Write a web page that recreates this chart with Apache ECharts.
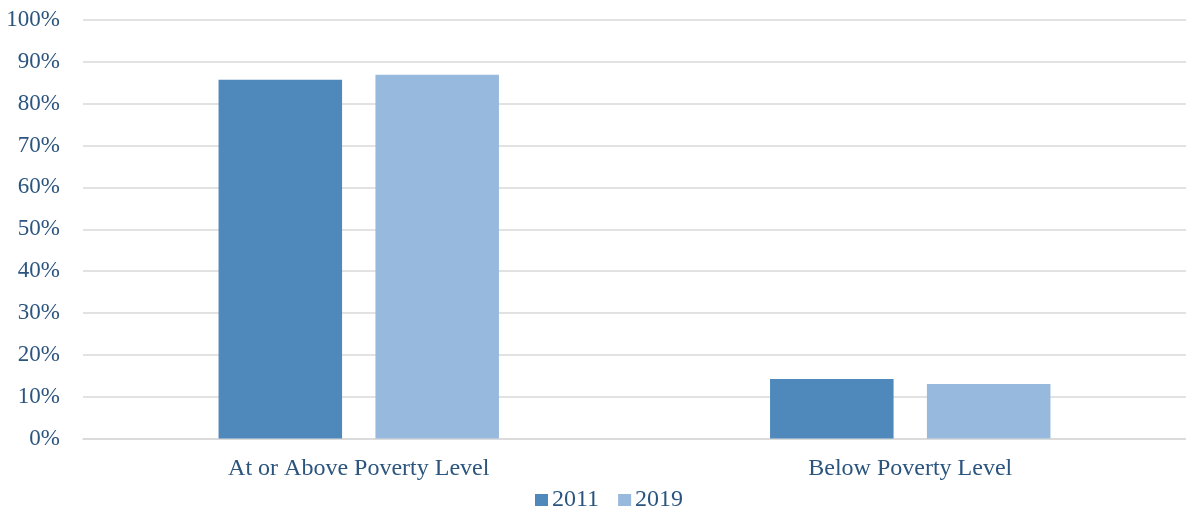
<!DOCTYPE html>
<html>
<head>
<meta charset="utf-8">
<script src="https://cdn.jsdelivr.net/npm/echarts@6/dist/echarts.min.js"></script>
<style>html,body{margin:0;padding:0;background:#fff}#c{width:1186px;height:506px}</style>
</head>
<body>
<div id="c"></div>
<script>
const categories = ['At or Above Poverty Level', 'Below Poverty Level'];
const series2011 = [85.7, 14.2];
const series2019 = [86.9, 13.0];
const seriesNames = ['2011', '2019'];

const textColor = '#2B557F';
const font = 'Liberation Serif';
const chart = echarts.init(document.getElementById('c'), null, {renderer: 'canvas'});
chart.setOption({
  animation: false,
  grid: {left: 83, width: 1107, top: 20, bottom: 67.5, containLabel: false},
  legend: {
    data: seriesNames, bottom: -6, left: 535, padding: 0,
    itemWidth: 13, itemHeight: 12, itemGap: 19,
    icon: 'rect',
    textStyle: {color: textColor, fontFamily: font, fontSize: 24, padding: [0, 0, 0, -1]}
  },
  xAxis: {
    type: 'category', data: categories,
    axisLine: {lineStyle: {color: '#D9D9D9', width: 1.5}},
    axisTick: {show: false},
    axisLabel: {color: textColor, fontFamily: font, fontSize: 24, margin: 18}
  },
  yAxis: {
    type: 'value', min: 0, max: 100, interval: 10,
    axisLine: {show: false}, axisTick: {show: false},
    splitLine: {lineStyle: {color: '#D9D9D9', width: 1.5}},
    axisLabel: {color: textColor, fontFamily: font, fontSize: 23, margin: 23, padding: [5, 0, 0, 0], formatter: '{value}%'}
  },
  series: [
    {name: seriesNames[0], type: 'bar', data: series2011, barWidth: '22.4%', barGap: '27%', itemStyle: {color: '#4F89BC'}},
    {name: seriesNames[1], type: 'bar', data: series2019, barWidth: '22.4%', itemStyle: {color: '#98B9DE'}}
  ]
});
</script>
</body>
</html>
